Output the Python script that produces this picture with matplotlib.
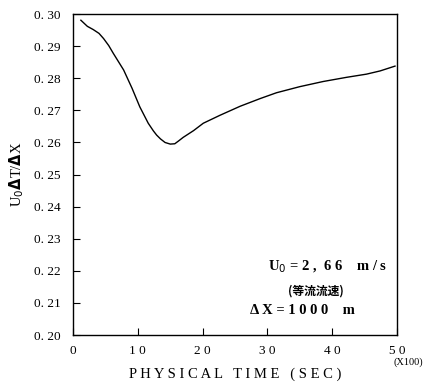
import matplotlib.pyplot as plt

# physical time (x100 sec) and U0*dT/dX
time = [1.2, 2.2, 3.1, 4.0, 4.7, 5.5, 6.2, 7.0, 7.8, 9.1, 10.3, 11.6, 12.4, 12.9, 13.5,
        14.2, 15.0, 15.7, 16.3, 17.0, 18.6, 20.1, 22.7, 25.8, 28.9, 31.4, 35.0, 38.6,
        42.2, 45.3, 47.4, 49.7]
ratio = [0.2981, 0.2962, 0.2952, 0.2940, 0.2924, 0.2902, 0.2878, 0.2852, 0.2826, 0.2769,
         0.2711, 0.2660, 0.2636, 0.2623, 0.2611, 0.2600, 0.2595, 0.2596, 0.2605, 0.2616,
         0.2637, 0.2660, 0.2685, 0.2713, 0.2737, 0.2755, 0.2774, 0.2790, 0.2803, 0.2813,
         0.2823, 0.2838]

yticks = [0.20, 0.21, 0.22, 0.23, 0.24, 0.25, 0.26, 0.27, 0.28, 0.29, 0.30]
ytick_labels = ["0. 20", "0. 21", "0. 22", "0. 23", "0. 24", "0. 25",
                "0. 26", "0. 27", "0. 28", "0. 29", "0. 30"]
xticks = [0, 10, 20, 30, 40, 50]
xtick_labels = ["0", "1 0", "2 0", "3 0", "4 0", "5 0"]

plt.rcParams['font.family'] = ['Liberation Serif', 'Noto Sans CJK JP', 'DejaVu Sans']

fig = plt.figure(figsize=(4.25, 3.82), dpi=100)
ax = fig.add_axes([0.172, 0.123, 0.762, 0.840])

ax.plot(time, ratio, color='black', linewidth=1.0)

ax.set_xlim(0, 50)
ax.set_ylim(0.20, 0.30)
ax.set_xticks(xticks)
ax.set_xticklabels(xtick_labels)
ax.set_yticks(yticks)
ax.set_yticklabels(ytick_labels)
ax.tick_params(direction='in', length=5, width=0.8, labelsize=9.5, pad=9,
               top=False, right=False)
ax.tick_params(axis='x', pad=7)
for s in ax.spines.values():
    s.set_linewidth(1.0)

ax.set_xlabel("P H Y S I C A L   T I M E   ( S E C )", fontsize=10.5, labelpad=8)
ax.set_ylabel(r"U$_0$$\mathbf{\Delta}$T/$\mathbf{\Delta}$X", fontsize=10.5, labelpad=6)

fig.text(0.995, 0.052, "(X100)", fontsize=7.5, ha='right', va='center')

ax.text(0.97, 0.212, r"U$_0$ = 2 ,  6 6    m / s", transform=ax.transAxes,
        ha='right', va='center', fontsize=10.5, weight='bold')
ax.text(0.75, 0.138, "(等流流速)", transform=ax.transAxes,
        ha='center', va='center', fontsize=8.5, weight='bold',
        family=['Noto Sans CJK JP'])
ax.text(0.545, 0.075, "Δ X = 1 0 0 0    m", transform=ax.transAxes,
        ha='left', va='center', fontsize=10.5, weight='bold')

fig.savefig('out.png', dpi=100)
